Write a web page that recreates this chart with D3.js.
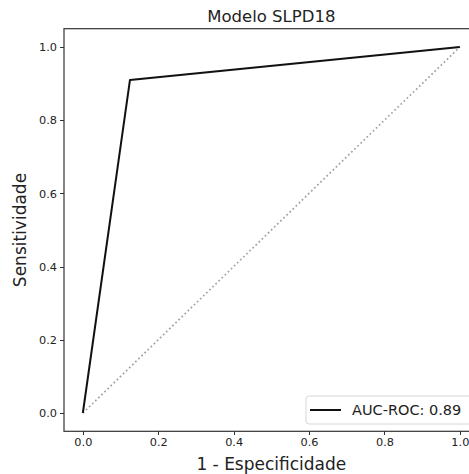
<!DOCTYPE html>
<html>
<head>
<meta charset="utf-8">
<style>
  html, body { margin: 0; padding: 0; background: #fff; }
  svg { display: block; }
  .axis text { font: 11.3px "DejaVu Sans", sans-serif; fill: #222; }
  .axis path, .axis line { stroke: #333; shape-rendering: crispEdges; }
</style>
</head>
<body>
<svg id="chart" width="469" height="474"></svg>
<script src="https://d3js.org/d3.v7.min.js"></script>
<script>
var title = "Modelo SLPD18";
var xLabel = "1 - Especificidade";
var yLabel = "Sensitividade";
var fpr = [0, 0.125, 1];
var tpr = [0, 0.91, 1];
var chanceX = [0, 1];
var chanceY = [0, 1];
var aucLabel = "AUC-ROC: 0.89";
var tickValues = [0, 0.2, 0.4, 0.6, 0.8, 1.0];

var svg = d3.select("#chart");

var x = d3.scaleLinear().domain([-0.05, 1.05]).range([64, 478.7]);
var y = d3.scaleLinear().domain([-0.05, 1.05]).range([431.3, 28.7]);

// x axis
var xAxis = svg.append("g")
    .attr("class", "axis")
    .attr("transform", "translate(0," + y(-0.05) + ")")
    .call(d3.axisBottom(x).tickValues(tickValues).tickFormat(d3.format(".1f")).tickSize(4).tickPadding(3));
xAxis.select(".domain").remove();

var yAxis = svg.append("g")
    .attr("class", "axis")
    .attr("transform", "translate(" + x(-0.05) + ",0)")
    .call(d3.axisLeft(y).tickValues(tickValues).tickFormat(d3.format(".1f")).tickSize(4).tickPadding(3));
yAxis.select(".domain").remove();

// frame
svg.append("rect")
    .attr("x", x(-0.05))
    .attr("y", y(1.05))
    .attr("width", x(1.05) - x(-0.05))
    .attr("height", y(-0.05) - y(1.05))
    .attr("fill", "none")
    .attr("stroke", "#333")
    .attr("stroke-width", 1.2);

// chance line
var chance = chanceX.map(function(d, i) { return [d, chanceY[i]]; });
svg.append("path")
    .datum(chance)
    .attr("fill", "none")
    .attr("stroke", "#a0a0a0")
    .attr("stroke-width", 1.7)
    .attr("stroke-dasharray", "1.7,2.6")
    .attr("d", d3.line().x(function(d) { return x(d[0]); }).y(function(d) { return y(d[1]); }));

// roc curve
var roc = fpr.map(function(d, i) { return [d, tpr[i]]; });
svg.append("path")
    .datum(roc)
    .attr("fill", "none")
    .attr("stroke", "#111")
    .attr("stroke-width", 2)
    .attr("stroke-linejoin", "round")
    .attr("d", d3.line().x(function(d) { return x(d[0]); }).y(function(d) { return y(d[1]); }));

// title and labels
svg.append("text")
    .attr("x", (x(-0.05) + x(1.05)) / 2)
    .attr("y", 22)
    .attr("text-anchor", "middle")
    .style("font", "16.5px 'DejaVu Sans', sans-serif")
    .attr("fill", "#222")
    .text(title);

svg.append("text")
    .attr("x", (x(-0.05) + x(1.05)) / 2)
    .attr("y", 470)
    .attr("text-anchor", "middle")
    .style("font", "17px 'DejaVu Sans', sans-serif")
    .attr("fill", "#222")
    .text(xLabel);

svg.append("text")
    .attr("transform", "translate(26," + ((y(-0.05) + y(1.05)) / 2) + ") rotate(-90)")
    .attr("text-anchor", "middle")
    .style("font", "17px 'DejaVu Sans', sans-serif")
    .attr("fill", "#222")
    .text(yLabel);

// legend
var legend = svg.append("g").attr("transform", "translate(306,396)");
legend.append("rect")
    .attr("width", 180)
    .attr("height", 28)
    .attr("rx", 3)
    .attr("fill", "#fff")
    .attr("fill-opacity", 0.8)
    .attr("stroke", "#d6d6d6");
legend.append("line")
    .attr("x1", 4).attr("x2", 35)
    .attr("y1", 14).attr("y2", 14)
    .attr("stroke", "#111")
    .attr("stroke-width", 2);
legend.append("text")
    .attr("x", 46)
    .attr("y", 19)
    .style("font", "14.5px 'DejaVu Sans', sans-serif")
    .attr("fill", "#222")
    .text(aucLabel);
</script>
</body>
</html>
